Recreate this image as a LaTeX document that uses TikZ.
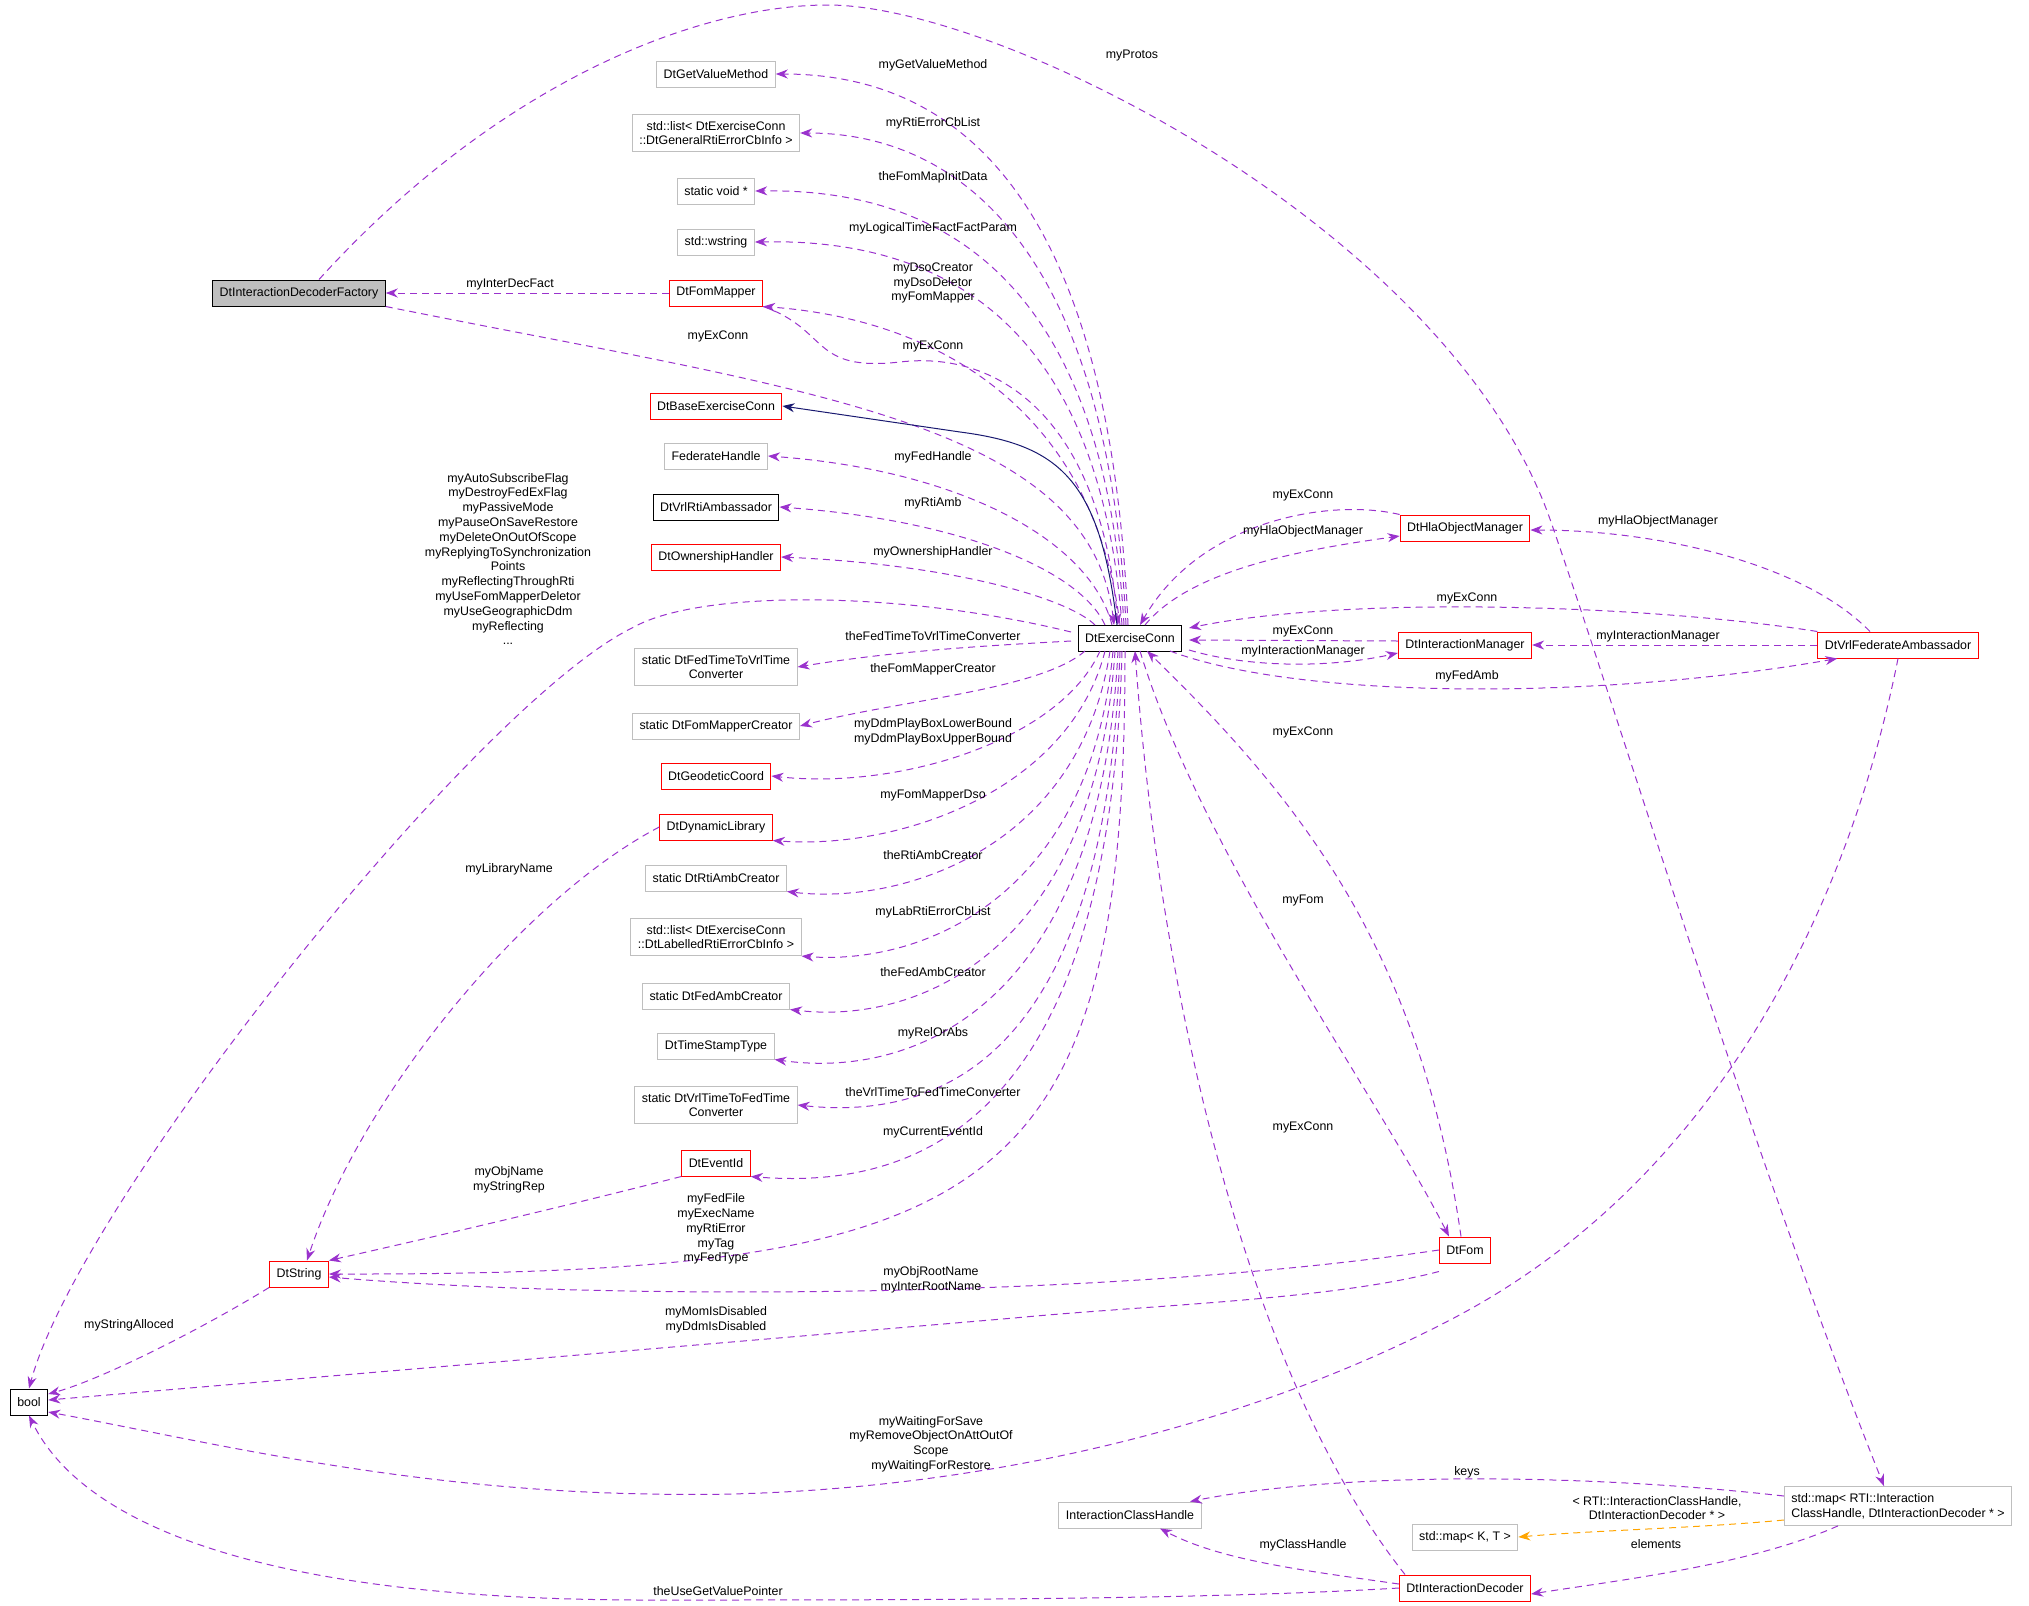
\documentclass[tikz,border=0pt]{standalone}
\usepackage{fontspec}
\setmainfont{Liberation Sans}
\usetikzlibrary{arrows.meta}
\definecolor{pur}{HTML}{9A32CD}
\definecolor{nav}{HTML}{191970}
\definecolor{org}{HTML}{FFA500}
\definecolor{gb}{HTML}{BFBFBF}
\begin{document}
\begin{tikzpicture}[x=0.5pt,y=-0.5pt,
  bx/.style={draw,line width=0.5pt,fill=white,font=\fontsize{6.2}{7.4}\selectfont,inner xsep=3.5pt,minimum height=13pt,align=center},
  g/.style={bx,draw=gb},
  r/.style={bx,draw=red},
  k/.style={bx,draw=black},
  lab/.style={font=\fontsize{6.2}{7.4}\selectfont,inner sep=0pt,align=center},
  e/.style={draw=pur,line width=0.5pt,dash pattern=on 3.5pt off 2.5pt,-{Stealth[length=6pt,width=4.5pt]}},
  eo/.style={e,draw=org},
  inh/.style={draw=nav,line width=0.5pt,-{Stealth[length=6pt,width=4.5pt,fill=nav]}}]
\useasboundingbox (0,0) rectangle (2029,1606);
% nodes
\node[bx,draw=black,fill=gb] (fac) at (299,293) {DtInteractionDecoderFactory};
\node[g] (gvm) at (716,74) {DtGetValueMethod};
\node[g] (lg) at (716,133) {std::list< DtExerciseConn\\::DtGeneralRtiErrorCbInfo >};
\node[g] (sv) at (716,191) {static void *};
\node[g] (ws) at (716,242) {std::wstring};
\node[r] (fm) at (716,293) {DtFomMapper};
\node[r] (base) at (716,406) {DtBaseExerciseConn};
\node[g] (fh) at (716,456) {FederateHandle};
\node[k] (vra) at (716,507) {DtVrlRtiAmbassador};
\node[r] (oh) at (716,557) {DtOwnershipHandler};
\node[g] (ftv) at (716,667) {static DtFedTimeToVrlTime\\Converter};
\node[g] (fmc) at (716,726) {static DtFomMapperCreator};
\node[r] (geo) at (716,776) {DtGeodeticCoord};
\node[r] (dl) at (716,827) {DtDynamicLibrary};
\node[g] (rac) at (716,878) {static DtRtiAmbCreator};
\node[g] (ll) at (716,937) {std::list< DtExerciseConn\\::DtLabelledRtiErrorCbInfo >};
\node[g] (fac2) at (716,996) {static DtFedAmbCreator};
\node[g] (tst) at (716,1046) {DtTimeStampType};
\node[g] (vtf) at (716,1105) {static DtVrlTimeToFedTime\\Converter};
\node[r] (eid) at (716,1163) {DtEventId};
\node[r] (str) at (299,1274) {DtString};
\node[k] (bool) at (29,1402) {bool};
\node[k] (ec) at (1130,638) {DtExerciseConn};
\node[r] (hom) at (1465,528) {DtHlaObjectManager};
\node[r] (im) at (1465,645) {DtInteractionManager};
\node[r] (vfa) at (1898,645) {DtVrlFederateAmbassador};
\node[r] (fom) at (1465,1250) {DtFom};
\node[g] (ich) at (1130,1515) {InteractionClassHandle};
\node[g] (mkt) at (1465,1537) {std::map< K, T >};
\node[g,align=left] (map) at (1898,1506) {std::map< RTI::Interaction\\ClassHandle, DtInteractionDecoder * >};
\node[r] (idec) at (1465,1588) {DtInteractionDecoder};
% coordinates on the ExerciseConn box
\coordinate (ecL) at (1071,632);
% left-top edges
\draw[e] (1128,625) .. controls (1110,200) and (960,74) .. (gvm.east);
\draw[e] (1126,625) .. controls (1108,250) and (960,133) .. (lg.east);
\draw[e] (1124,625) .. controls (1105,300) and (960,188) .. (sv.east);
\draw[e] (1122,625) .. controls (1100,340) and (960,238) .. (ws.east);
\draw[e] (1120,625) .. controls (1095,420) and (950,320) .. (fm.south east);
\draw[e] (fm.south east) .. controls (830,330) and (810,372) .. (900,362) .. controls (1000,350) and (1100,420) .. (1118,625);
\draw[e] (fac.south east) .. controls (800,390) and (1090,420) .. (1114,625);
\draw[inh] (1117,625) .. controls (1100,480) and (1060,445) .. (960,432) -- (base.east);
\draw[e] (1112,625) .. controls (1090,540) and (960,470) .. (fh.east);
\draw[e] (1105,625) .. controls (1080,570) and (960,520) .. (vra.east);
\draw[e] (1095,625) .. controls (1070,600) and (960,565) .. (oh.east);
\draw[e] (ecL) .. controls (900,590) and (700,590) .. (634,627) .. controls (480,700) and (80,1200) .. (bool.north);
\draw[e] (1071,641) .. controls (1000,645) and (900,650) .. (ftv.east);
\draw[e] (1085,651) .. controls (1040,690) and (900,700) .. (fmc.east);
\draw[e] (1100,651) .. controls (1060,740) and (900,790) .. (geo.east);
\draw[e] (1105,651) .. controls (1070,790) and (900,850) .. (dl.south east);
\draw[e] (1110,651) .. controls (1080,850) and (900,905) .. (rac.south east);
\draw[e] (1113,651) .. controls (1090,900) and (920,965) .. (ll.south east);
\draw[e] (1115,651) .. controls (1095,950) and (920,1025) .. (fac2.south east);
\draw[e] (1118,651) .. controls (1100,1000) and (920,1080) .. (tst.south east);
\draw[e] (1120,651) .. controls (1105,1060) and (940,1120) .. (vtf.east);
\draw[e] (1122,651) .. controls (1110,1120) and (920,1190) .. (eid.south east);
\draw[e] (1125,651) .. controls (1125,1200) and (1000,1275) .. (str.east);
% lower left
\draw[e] (fom.west) .. controls (1100,1300) and (600,1300) .. ([yshift=-1.5pt]str.east);
\draw[e] ([yshift=-4pt]fom.south west) .. controls (1330,1300) and (1150,1305) .. (1014,1318) -- ([yshift=1pt]bool.east);
\draw[e] (vfa.south) .. controls (1850,900) and (1720,1180) .. (1450,1320) .. controls (1200,1450) and (900,1500) .. (650,1494) .. controls (400,1490) and (200,1440) .. ([yshift=-5pt]bool.east);
\draw[e] (idec.west) .. controls (1200,1600) and (900,1600) .. (647,1600) .. controls (250,1600) and (80,1520) .. (bool.south);
\draw[e] (str.south west) .. controls (200,1330) and (100,1380) .. ([yshift=4pt]bool.east);
\draw[e] (dl.west) .. controls (520,900) and (360,1100) .. ([xshift=4pt]str.north);
\draw[e] (eid.south west) .. controls (550,1210) and (420,1240) .. (str.north east);
% right side
\draw[e] (hom.north west) .. controls (1330,498) and (1200,520) .. (1140,625);
\draw[e] (1145,625) .. controls (1190,570) and (1300,550) .. ([yshift=-4pt]hom.west);
\draw[e] (vfa.north west) .. controls (1650,605) and (1350,595) .. (1189,628);
\draw[e] ([yshift=2pt]im.west) -- (1189,640);
\draw[e] (1189,650) .. controls (1250,668) and (1330,668) .. ([yshift=-4pt]im.west);
\draw[e] (1170,651) .. controls (1300,700) and (1600,700) .. ([xshift=10pt]vfa.south west);
\draw[e] ([xshift=-14pt]vfa.north) .. controls (1800,560) and (1650,530) .. ([yshift=-1pt]hom.east);
\draw[e] (vfa.west) -- (im.east);
\draw[e] ([xshift=-2pt]fom.north) .. controls (1420,950) and (1300,800) .. (1147,651);
\draw[e] (1140,651) .. controls (1200,850) and (1380,1100) .. ([xshift=-8pt]fom.north);
\draw[e] ([xshift=-30pt]idec.north) .. controls (1250,1380) and (1160,1000) .. (1135,651);
\draw[e] ([xshift=10pt]fac.north) .. controls (500,80) and (700,5) .. (828,5) .. controls (1000,5) and (1450,230) .. (1551,522) .. controls (1620,720) and (1750,1150) .. ([xshift=-7pt]map.north);
\draw[e] ([yshift=5pt]map.west) .. controls (1600,1475) and (1350,1470) .. ([xshift=30pt]ich.north);
\draw[e] ([yshift=2pt]idec.west) .. controls (1300,1570) and (1220,1560) .. ([xshift=15pt]ich.south);
\draw[e] ([xshift=-30pt]map.south) .. controls (1750,1565) and (1620,1580) .. ([yshift=-3pt]idec.east);
\draw[eo] ([yshift=-7pt]map.west) .. controls (1700,1528) and (1600,1530) .. (mkt.east);
% labels
\node[lab] at (1132,56) {myProtos};
\node[lab] at (933,65) {myGetValueMethod};
\node[lab] at (933,123) {myRtiErrorCbList};
\node[lab] at (933,177) {theFomMapInitData};
\node[lab] at (933,228) {myLogicalTimeFactFactParam};
\node[lab] at (933,283) {myDsoCreator\\myDsoDeletor\\myFomMapper};
\node[lab] at (510,285) {myInterDecFact};
\node[lab] at (718,336) {myExConn};
\node[lab] at (933,346) {myExConn};
\node[lab] at (933,457) {myFedHandle};
\node[lab] at (933,503) {myRtiAmb};
\node[lab] at (933,552) {myOwnershipHandler};
\node[lab] at (508,559) {myAutoSubscribeFlag\\myDestroyFedExFlag\\myPassiveMode\\myPauseOnSaveRestore\\myDeleteOnOutOfScope\\myReplyingToSynchronization\\Points\\myReflectingThroughRti\\myUseFomMapperDeletor\\myUseGeographicDdm\\myReflecting\\...};
\node[lab] at (933,636) {theFedTimeToVrlTimeConverter};
\node[lab] at (933,669) {theFomMapperCreator};
\node[lab] at (933,732) {myDdmPlayBoxLowerBound\\myDdmPlayBoxUpperBound};
\node[lab] at (933,796) {myFomMapperDso};
\node[lab] at (933,855) {theRtiAmbCreator};
\node[lab] at (933,912) {myLabRtiErrorCbList};
\node[lab] at (933,972) {theFedAmbCreator};
\node[lab] at (933,1033) {myRelOrAbs};
\node[lab] at (933,1092) {theVrlTimeToFedTimeConverter};
\node[lab] at (933,1132) {myCurrentEventId};
\node[lab] at (509,869) {myLibraryName};
\node[lab] at (509,1180) {myObjName\\myStringRep};
\node[lab] at (716,1229) {myFedFile\\myExecName\\myRtiError\\myTag\\myFedType};
\node[lab] at (931,1280) {myObjRootName\\myInterRootName};
\node[lab] at (716,1320) {myMomIsDisabled\\myDdmIsDisabled};
\node[lab] at (129,1325) {myStringAlloced};
\node[lab] at (931,1444) {myWaitingForSave\\myRemoveObjectOnAttOutOf\\Scope\\myWaitingForRestore};
\node[lab] at (718,1591) {theUseGetValuePointer};
\node[lab] at (1303,495) {myExConn};
\node[lab] at (1303,531) {myHlaObjectManager};
\node[lab] at (1658,521) {myHlaObjectManager};
\node[lab] at (1467,598) {myExConn};
\node[lab] at (1303,631) {myExConn};
\node[lab] at (1303,651) {myInteractionManager};
\node[lab] at (1658,636) {myInteractionManager};
\node[lab] at (1467,676) {myFedAmb};
\node[lab] at (1303,732) {myExConn};
\node[lab] at (1303,901) {myFom};
\node[lab] at (1303,1127) {myExConn};
\node[lab] at (1467,1472) {keys};
\node[lab] at (1657,1508) {< RTI::InteractionClassHandle,\\DtInteractionDecoder * >};
\node[lab] at (1303,1545) {myClassHandle};
\node[lab] at (1656,1544) {elements};
% edge from FomMapper to Factory
\draw[e] (fm.west) -- (fac.east);
\end{tikzpicture}
\end{document}
